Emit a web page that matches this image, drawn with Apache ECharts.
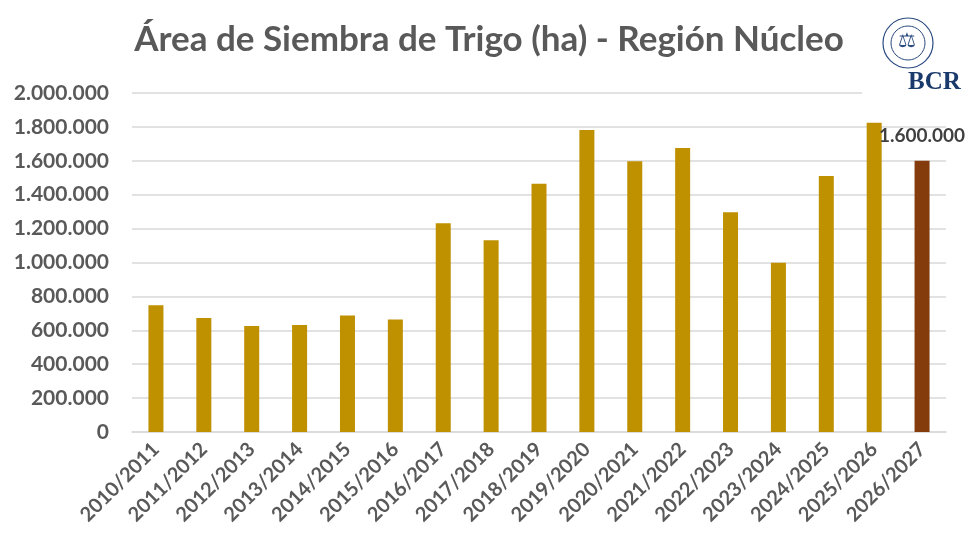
<!DOCTYPE html>
<html>
<head>
    <meta charset="utf-8">
    <title>Área de Siembra de Trigo</title>
    <script src="https://cdn.jsdelivr.net/npm/echarts@6/dist/echarts.min.js"></script>
    <style type="text/css">
        html, body { margin: 0; padding: 0; background: #fff; }
        #main { width: 972px; height: 548px; }
    </style>
</head>
<body>
<div id="main"></div>
<script type="text/javascript">
    // campañas y superficie sembrada (ha)
    var campanias = ['2010/2011', '2011/2012', '2012/2013', '2013/2014', '2014/2015', '2015/2016',
        '2016/2017', '2017/2018', '2018/2019', '2019/2020', '2020/2021', '2021/2022',
        '2022/2023', '2023/2024', '2024/2025', '2025/2026', '2026/2027'];
    var hectareas = [748000, 672000, 625000, 632000, 688000, 664000,
        1232000, 1131000, 1464000, 1781000, 1597000, 1675000,
        1297000, 998000, 1511000, 1824000, 1600000];
    var ultimaEtiqueta = '1.600.000';

    function fmt(v) {
        return String(v).replace(/\B(?=(\d{3})+(?!\d))/g, '.');
    }

    var datos = hectareas.map(function (v, i) {
        if (i === hectareas.length - 1) {
            return {
                value: v,
                itemStyle: { color: '#843C0C' },
                label: {
                    show: true, position: 'top', distance: 15,
                    formatter: ultimaEtiqueta,
                    fontFamily: 'Lato', fontWeight: 'bold', fontSize: 19, color: '#404040'
                }
            };
        }
        return v;
    });

    var myChart = echarts.init(document.getElementById('main'));
    myChart.setOption({
        animation: false,
        backgroundColor: '#ffffff',
        title: {
            text: 'Área de Siembra de Trigo (ha) - Región Núcleo',
            left: 484, top: 17, textAlign: 'center',
            textStyle: { fontFamily: 'Lato', fontWeight: 'bold', fontSize: 35, color: '#595959' }
        },
        grid: { left: 132, right: 26, top: 93, bottom: 116, containLabel: false },
        xAxis: {
            type: 'category',
            data: campanias,
            axisTick: { show: false },
            axisLine: { show: true, lineStyle: { color: '#d9d9d9', width: 1.5 } },
            axisLabel: {
                rotate: 45, margin: 14, interval: 0,
                fontFamily: 'Lato', fontWeight: 'bold', fontSize: 20, color: '#595959'
            }
        },
        yAxis: {
            type: 'value',
            min: 0, max: 2000000, interval: 200000,
            axisLine: { show: false },
            axisTick: { show: false },
            splitLine: { lineStyle: { color: '#d9d9d9', width: 1.5 } },
            axisLabel: {
                margin: 23,
                formatter: function (v) { return fmt(v); },
                fontFamily: 'Lato', fontWeight: 'bold', fontSize: 21, color: '#595959'
            }
        },
        series: [{
            name: 'Área',
            type: 'bar',
            barWidth: 15,
            itemStyle: { color: '#BF9000' },
            data: datos
        }],
        graphic: [
            // tapa la grilla superior bajo el logo
            { type: 'rect', z: 100, shape: { x: 862, y: 85, width: 110, height: 16 }, style: { fill: '#ffffff' } },
            // logo BCR
            { type: 'circle', z: 101, shape: { cx: 908, cy: 43, r: 25 }, style: { fill: '#fff', stroke: '#2b4a80', lineWidth: 1.2 } },
            { type: 'circle', z: 101, shape: { cx: 908, cy: 43, r: 17 }, style: { fill: '#fff', stroke: '#2b4a80', lineWidth: 1 } },
            { type: 'text', z: 101, left: 898, top: 31, style: { text: '⚖', fontSize: 20, fill: '#2b4a80' } },
            { type: 'text', z: 101, left: 908, top: 70, style: { text: 'BCR', fontFamily: 'Liberation Serif', fontWeight: 'bold', fontSize: 25, fill: '#1a3a6b', textAlign: 'center' } }
        ]
    });
</script>
</body>
</html>
